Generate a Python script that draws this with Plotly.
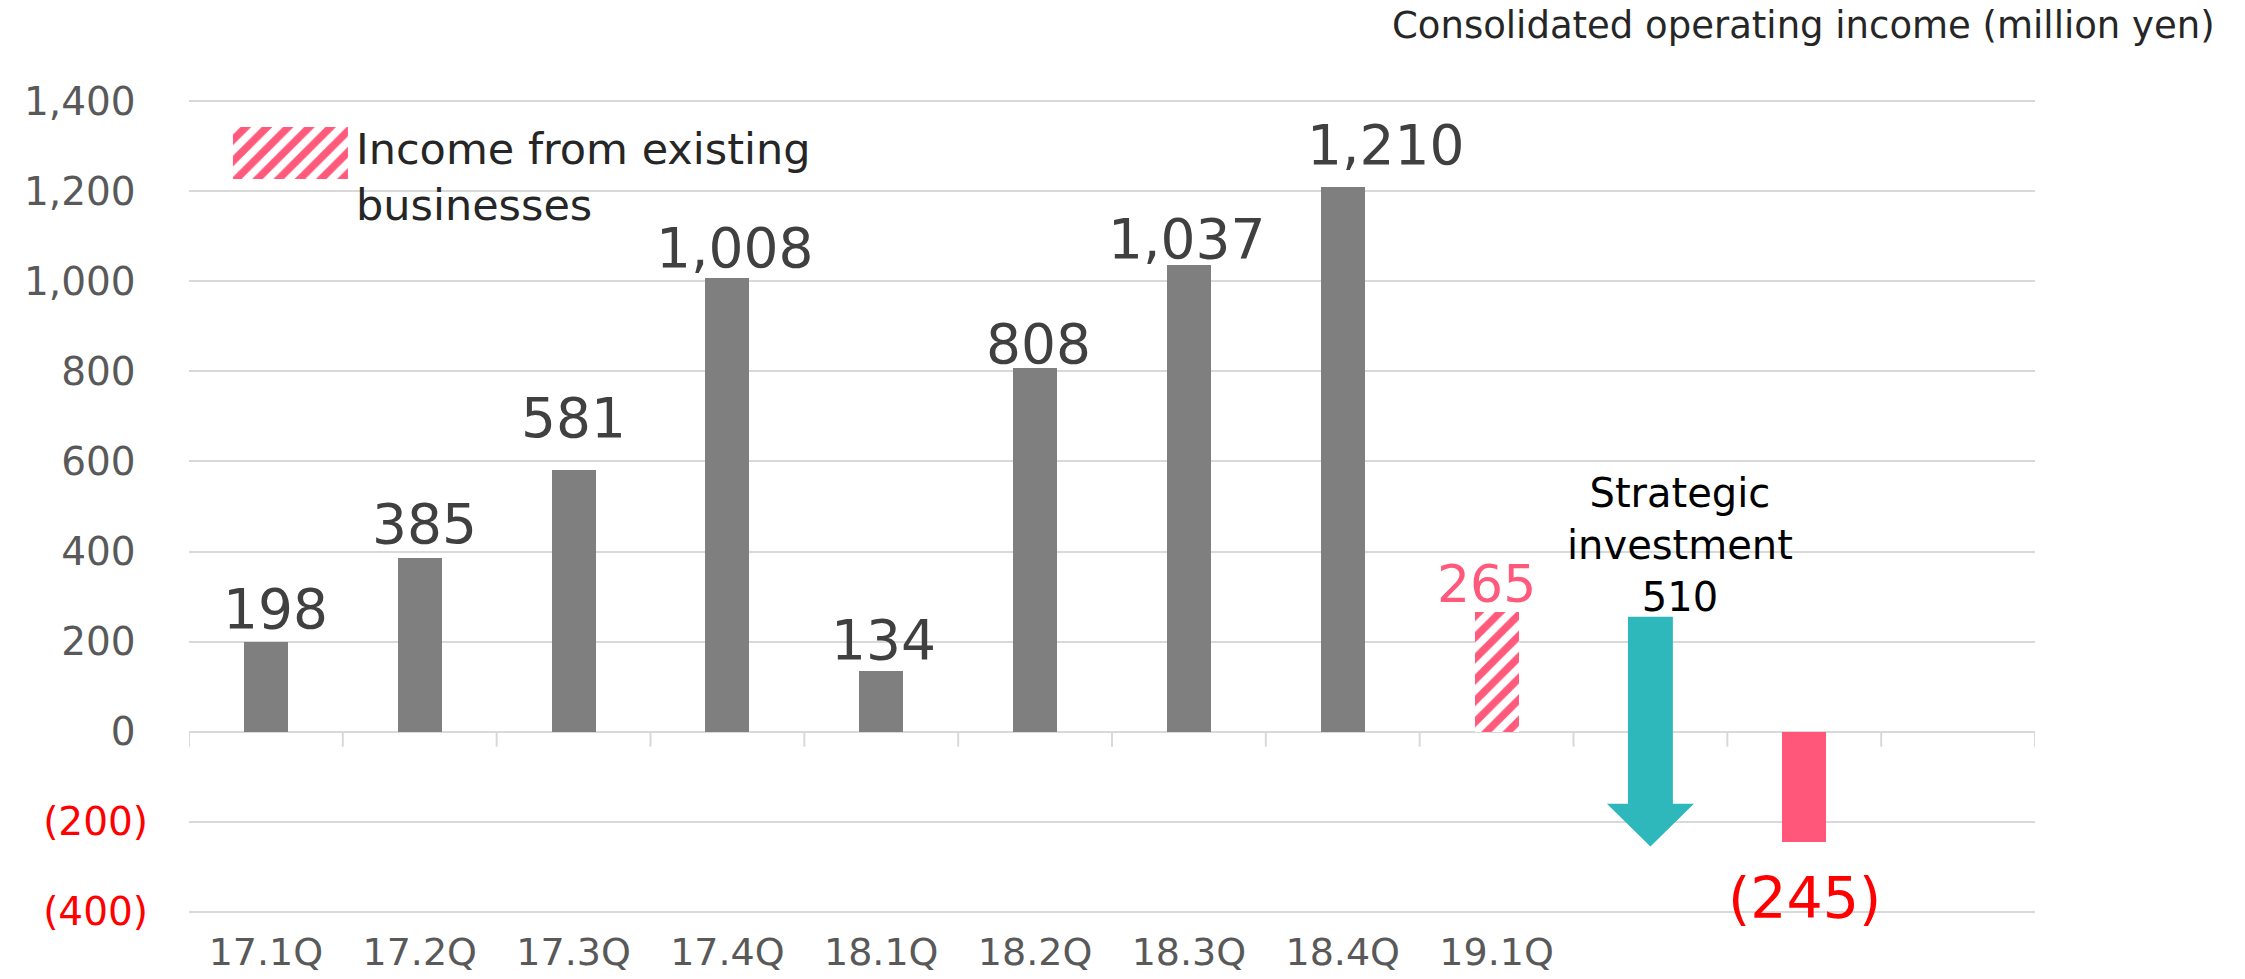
import plotly.graph_objects as go

# ---- data -------------------------------------------------------------
quarters = ["17.1Q", "17.2Q", "17.3Q", "17.4Q", "18.1Q", "18.2Q", "18.3Q", "18.4Q", "19.1Q", "", "", ""]
operating_income = [198, 385, 581, 1008, 134, 808, 1037, 1210]   # 17.1Q .. 18.4Q
existing_business_19q1 = 265                                      # 19.1Q, existing businesses
strategic_investment = 510                                        # drawn as a downward arrow
investment_arrow_top = 255
net_result = -245                                                 # existing income less investment

y_ticks = [-400, -200, 0, 200, 400, 600, 800, 1000, 1200, 1400]

# label nudges (px) for the quarterly value labels: lift above bar top, sideways shift
label_lift = [33, 34, 52, 30, 31, 24, 26, 42]
label_dx = [10, 5, 0, 7, 2, 3, -2, 43]

# ---- styling ----------------------------------------------------------
FONT = "DejaVu Sans"
GREY_BAR = "#7F7F7F"
PINK = "#FF5A7B"
TEAL = "#2FB8BC"
GRID = "#D9D9D9"
BAR_W = 0.286
HATCH = dict(shape="/", fgcolor=PINK, bgcolor="white", fgopacity=1,
             fillmode="replace", size=15, solidity=0.5)

fig = go.Figure()

# quarterly operating income bars
n_hist = len(operating_income)
fig.add_trace(go.Bar(
    x=list(range(n_hist)), y=operating_income, width=BAR_W,
    marker=dict(color=GREY_BAR, line=dict(width=0)),
    hoverinfo="skip", showlegend=False,
))

# 19.1Q income from existing businesses (hatched)
i_exist = 8
fig.add_trace(go.Bar(
    x=[i_exist], y=[existing_business_19q1], width=BAR_W,
    marker=dict(color=PINK, line=dict(width=0), pattern=HATCH),
    hoverinfo="skip", showlegend=False,
))

# strategic investment arrow
i_arrow = 9
shaft_hw, head_hw, head_len = 0.146, 0.283, 95
a_top = investment_arrow_top
a_tip = investment_arrow_top - strategic_investment
a_neck = a_tip + head_len
fig.add_trace(go.Scatter(
    x=[i_arrow - shaft_hw, i_arrow + shaft_hw, i_arrow + shaft_hw, i_arrow + head_hw,
       i_arrow, i_arrow - head_hw, i_arrow - shaft_hw, i_arrow - shaft_hw],
    y=[a_top, a_top, a_neck, a_neck, a_tip, a_neck, a_neck, a_top],
    mode="lines", fill="toself", fillcolor=TEAL, line=dict(width=0, color=TEAL),
    hoverinfo="skip", showlegend=False,
))

# resulting net figure
i_net = 10
fig.add_trace(go.Bar(
    x=[i_net], y=[net_result], width=BAR_W,
    marker=dict(color="#FF577A", line=dict(width=0)),
    hoverinfo="skip", showlegend=False,
))

# legend swatch on an overlay axis spanning the plot area
sx0, sx1, sy0, sy1 = 0.0238, 0.0861, 0.9018, 0.9656
fig.add_trace(go.Scatter(
    x=[sx0, sx1, sx1, sx0, sx0], y=[sy0, sy0, sy1, sy1, sy0],
    xaxis="x2", yaxis="y2", mode="lines", fill="toself",
    fillcolor=PINK, line=dict(width=0), fillpattern=HATCH,
    hoverinfo="skip", showlegend=False,
))

annotations = []

# value labels
for i, v in enumerate(operating_income):
    annotations.append(dict(
        x=i, y=v, xref="x", yref="y", text=f"{v:,}", showarrow=False,
        xanchor="center", yanchor="middle", yshift=label_lift[i], xshift=label_dx[i],
        font=dict(family=FONT, size=55, color="#404040"),
    ))

annotations.append(dict(
    x=i_exist, y=existing_business_19q1, xref="x", yref="y",
    text=f"{existing_business_19q1:,}", showarrow=False,
    xanchor="center", yanchor="middle", yshift=28, xshift=-10,
    font=dict(family=FONT, size=52, color=PINK),
))

# strategic investment caption
annotations.append(dict(
    x=i_arrow, y=investment_arrow_top, xref="x", yref="y",
    text=f"Strategic<br>investment<br>{strategic_investment:,}", showarrow=False,
    xanchor="center", yanchor="middle", yshift=72, xshift=30, align="center",
    font=dict(family=FONT, size=40, color="#000000"),
))

annotations.append(dict(
    x=i_net, y=net_result, xref="x", yref="y",
    text=f"({abs(net_result):,})", showarrow=False,
    xanchor="center", yanchor="middle", yshift=-56,
    font=dict(family=FONT, size=57, color="#FF0000"),
))

# legend text
annotations.append(dict(
    x=0.0894, y=0.9037, xref="paper", yref="paper",
    text="Income from existing<br>businesses", showarrow=False,
    xanchor="left", yanchor="middle", align="left",
    font=dict(family=FONT, size=43, color="#262626"),
))

# unit title
annotations.append(dict(
    x=1.0986, y=1.0896, xref="paper", yref="paper",
    text="Consolidated operating income (million yen)", showarrow=False,
    xanchor="right", yanchor="middle",
    font=dict(family=FONT, size=37, color="#262626"),
))

# category separator ticks hanging from the zero line
shapes = []
for k in range(len(quarters) + 1):
    shapes.append(dict(
        type="line", xref="x", yref="y", x0=k - 0.5, x1=k - 0.5,
        ysizemode="pixel", yanchor=0, y0=0, y1=-15,
        line=dict(color=GRID, width=2), layer="below",
    ))


def fmt_tick(v):
    if v < 0:
        return f"<span style='color:#FF0000'>({abs(v):,})</span>"
    return f"{v:,}\u2008"


fig.update_layout(
    width=2245, height=979,
    margin=dict(l=189, r=210, t=99, b=65, pad=0),
    paper_bgcolor="white", plot_bgcolor="white",
    bargap=0, barmode="overlay",
    font=dict(family=FONT),
    xaxis=dict(
        range=[-0.5, len(quarters) - 0.5], automargin=False,
        tickvals=list(range(len(quarters))), ticktext=quarters,
        showgrid=False, zeroline=False, showline=False, ticks="",
        tickfont=dict(family=FONT, size=38, color="#595959"),
        ticklabelstandoff=12, fixedrange=True,
    ),
    yaxis=dict(
        range=[-405, 1405], automargin=False,
        tickvals=y_ticks, ticktext=[fmt_tick(v) for v in y_ticks],
        showgrid=True, gridcolor=GRID, gridwidth=2,
        zeroline=True, zerolinecolor=GRID, zerolinewidth=2,
        showline=False, ticks="",
        tickfont=dict(family=FONT, size=39, color="#595959"),
        ticklabelstandoff=40, fixedrange=True,
    ),
    xaxis2=dict(overlaying="x", range=[0, 1], visible=False, fixedrange=True, automargin=False),
    yaxis2=dict(overlaying="y", range=[0, 1], visible=False, fixedrange=True, automargin=False),
    annotations=annotations,
    shapes=shapes,
)

fig.write_html("out.html")
